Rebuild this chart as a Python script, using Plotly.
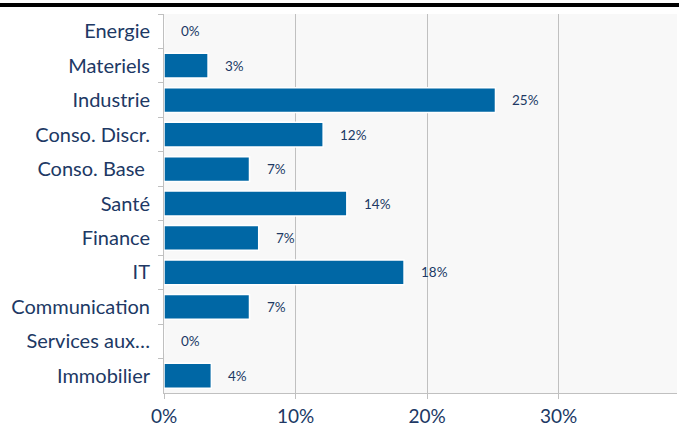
import plotly.graph_objects as go

categories = ["Energie", "Materiels", "Industrie", "Conso. Discr.", "Conso. Base ",
              "Santé", "Finance", "IT", "Communication", "Services aux…", "Immobilier"]
values = [0.0, 3.35, 25.2, 12.1, 6.5, 13.9, 7.2, 18.25, 6.5, 0.0, 3.6]
labels = ["0%", "3%", "25%", "12%", "7%", "14%", "7%", "18%", "7%", "0%", "4%"]
tick_vals = [0, 10, 20, 30]
tick_text = ["0%", "10%", "20%", "30%"]

TXT = "#203864"
BAR = "#0067A5"
FONT = "Lato"

fig = go.Figure()
fig.add_trace(go.Bar(
    y=categories, x=values, orientation="h",
    marker=dict(color=BAR, line=dict(color="white", width=1.5)),
    width=0.72, hoverinfo="skip",
))

for c, v, t in zip(categories, values, labels):
    fig.add_annotation(x=v, y=c, text=t, showarrow=False, xanchor="left",
                       xshift=15, font=dict(family=FONT, size=13.5, color=TXT))

fig.add_shape(type="line", xref="paper", yref="paper",
              x0=-0.33, x1=1.01, y0=1.024, y1=1.024,
              line=dict(color="black", width=4))

fig.update_layout(
    width=679, height=429,
    margin=dict(l=164, r=2, t=14, b=36, autoexpand=False),
    paper_bgcolor="white", plot_bgcolor="#f8f8f8",
    showlegend=False,
    font=dict(family=FONT, color=TXT),
    xaxis=dict(range=[0, 39], tickvals=tick_vals, ticktext=tick_text,
               showgrid=True, gridcolor="#c0c0c0", gridwidth=1,
               zeroline=False, showline=True, linecolor="#c0c0c0",
               ticks="outside", ticklen=5, tickcolor="#c0c0c0", automargin=False,
               ticklabelstandoff=1,
               tickfont=dict(family=FONT, size=19, color=TXT), fixedrange=True),
    yaxis=dict(categoryorder="array", categoryarray=categories, autorange="reversed",
               showgrid=False, zeroline=False, showline=True, linecolor="#c0c0c0",
               ticks="outside", tickson="boundaries", ticklen=5, tickcolor="#c0c0c0",
               automargin=False, ticklabelstandoff=9,
               tickfont=dict(family=FONT, size=20, color=TXT), fixedrange=True),
)

fig.write_html("out.html", config={"displayModeBar": False},
               post_script="document.body.style.margin='0';document.body.style.overflow='hidden';")
